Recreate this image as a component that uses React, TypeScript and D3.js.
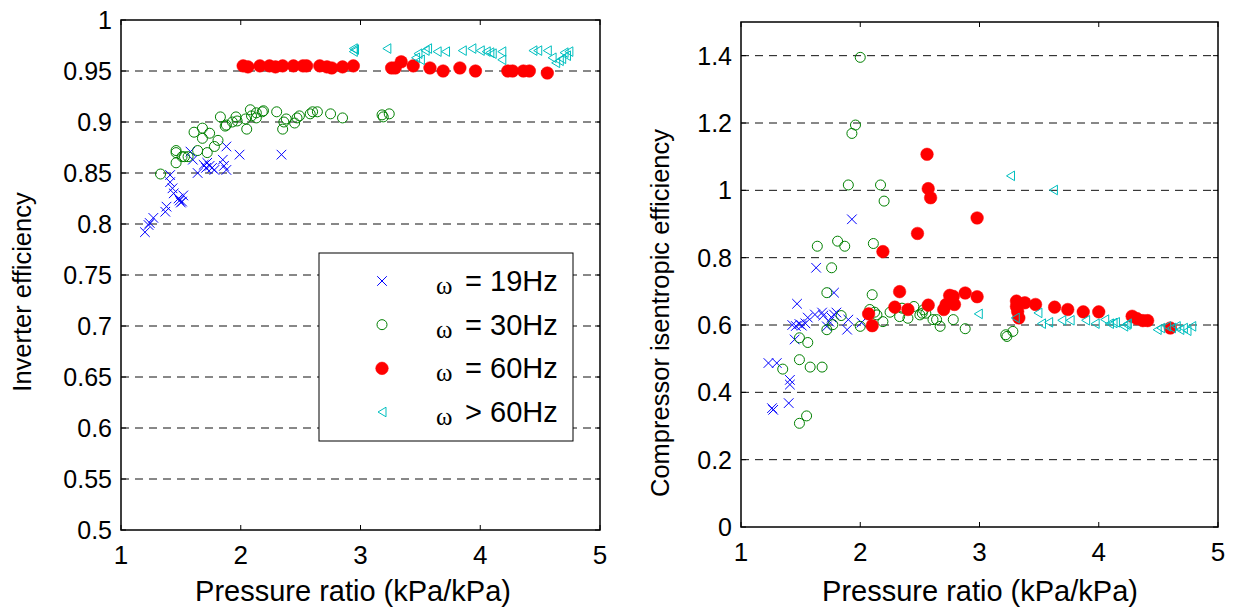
import React from "react";
import * as d3 from "d3";

// ---------- data: left panel (inverter efficiency) ----------
const invBlue: [number, number][] = [
  [1.2, 0.792], [1.23, 0.799], [1.24, 0.801], [1.27, 0.806], [1.37, 0.812], [1.38, 0.817],
  [1.41, 0.848], [1.41, 0.841], [1.43, 0.835], [1.44, 0.83], [1.48, 0.825], [1.49, 0.823],
  [1.51, 0.822], [1.52, 0.828], [1.5, 0.821], [1.58, 0.871], [1.6, 0.863], [1.64, 0.85],
  [1.69, 0.858], [1.71, 0.855], [1.72, 0.86], [1.74, 0.857], [1.76, 0.855], [1.78, 0.853],
  [1.85, 0.863], [1.86, 0.857], [1.88, 0.853], [1.88, 0.876], [1.99, 0.868], [2.34, 0.868],
];
const invGreen: [number, number][] = [
  [1.33, 0.849], [1.46, 0.872], [1.46, 0.87], [1.46, 0.86], [1.51, 0.866], [1.53, 0.866],
  [1.56, 0.866], [1.61, 0.89], [1.64, 0.872], [1.68, 0.894], [1.68, 0.884], [1.72, 0.87],
  [1.74, 0.889], [1.78, 0.876], [1.81, 0.882], [1.83, 0.905], [1.87, 0.896], [1.88, 0.897],
  [1.93, 0.9], [1.96, 0.905], [1.97, 0.901], [2.04, 0.903], [2.05, 0.893], [2.08, 0.912],
  [2.09, 0.906], [2.13, 0.904], [2.13, 0.909], [2.18, 0.91], [2.19, 0.911], [2.3, 0.91],
  [2.35, 0.893], [2.36, 0.9], [2.38, 0.903], [2.45, 0.899], [2.47, 0.904], [2.49, 0.906],
  [2.58, 0.908], [2.6, 0.91], [2.64, 0.91], [2.75, 0.908], [2.85, 0.904], [3.18, 0.907],
  [3.19, 0.905], [3.24, 0.908],
];
const invRed: [number, number][] = [
  [2.02, 0.955], [2.06, 0.954], [2.16, 0.955], [2.24, 0.955], [2.29, 0.954], [2.35, 0.955],
  [2.44, 0.955], [2.52, 0.955], [2.55, 0.955], [2.66, 0.955], [2.72, 0.954], [2.76, 0.953],
  [2.85, 0.954], [2.94, 0.955], [3.26, 0.953], [3.29, 0.953], [3.34, 0.959], [3.44, 0.955],
  [3.58, 0.953], [3.69, 0.95], [3.83, 0.953], [3.96, 0.95], [4.23, 0.95], [4.27, 0.95],
  [4.36, 0.95], [4.41, 0.95], [4.56, 0.948],
];
const invCyan: [number, number][] = [
  [2.95, 0.971], [2.94, 0.972], [2.94, 0.969], [3.22, 0.972], [3.46, 0.963], [3.48, 0.967],
  [3.5, 0.961], [3.54, 0.97], [3.56, 0.972], [3.64, 0.969], [3.71, 0.969], [3.85, 0.97],
  [3.93, 0.972], [4.0, 0.97], [4.05, 0.969], [4.08, 0.968], [4.1, 0.967], [4.18, 0.969],
  [4.18, 0.961], [4.44, 0.97], [4.48, 0.97], [4.56, 0.97], [4.6, 0.963], [4.63, 0.958],
  [4.66, 0.96], [4.68, 0.962], [4.72, 0.965], [4.7, 0.968], [4.74, 0.969],
];

// ---------- data: right panel (compressor isentropic efficiency) ----------
const compBlue: [number, number][] = [
  [1.93, 0.914], [1.63, 0.77], [1.78, 0.696], [1.47, 0.663], [1.43, 0.6], [1.46, 0.597],
  [1.49, 0.603], [1.51, 0.598], [1.54, 0.605], [1.56, 0.622], [1.62, 0.631], [1.68, 0.637],
  [1.69, 0.628], [1.72, 0.596], [1.74, 0.61], [1.76, 0.622], [1.78, 0.631], [1.8, 0.637],
  [1.9, 0.616], [1.89, 0.586], [1.45, 0.557], [1.23, 0.487], [1.3, 0.487], [1.41, 0.437],
  [1.41, 0.423], [1.4, 0.368], [1.26, 0.353], [1.27, 0.348], [2.01, 0.607],
];
const compGreen: [number, number][] = [
  [2.0, 1.395], [1.96, 1.194], [1.93, 1.169], [1.9, 1.016], [2.17, 1.016], [2.2, 0.968],
  [1.64, 0.834], [1.81, 0.849], [1.87, 0.834], [2.11, 0.842], [1.76, 0.77], [1.72, 0.696],
  [1.49, 0.562], [1.56, 0.548], [1.35, 0.469], [1.49, 0.497], [1.58, 0.475], [1.68, 0.475],
  [1.49, 0.308], [1.55, 0.33], [1.72, 0.586], [1.77, 0.601], [1.84, 0.628], [2.0, 0.596],
  [2.1, 0.69], [2.08, 0.646], [2.12, 0.638], [2.14, 0.63], [2.19, 0.61], [2.25, 0.638],
  [2.33, 0.625], [2.35, 0.65], [2.4, 0.62], [2.45, 0.655], [2.5, 0.63], [2.52, 0.635],
  [2.53, 0.645], [2.55, 0.635], [2.61, 0.616], [2.64, 0.616], [2.67, 0.596], [2.78, 0.616],
  [2.88, 0.589], [3.22, 0.571], [3.23, 0.566], [3.28, 0.581],
];
const compRed: [number, number][] = [
  [2.07, 0.633], [2.1, 0.598], [2.19, 0.818], [2.29, 0.653], [2.33, 0.699], [2.4, 0.646],
  [2.48, 0.872], [2.56, 1.107], [2.57, 1.005], [2.59, 0.978], [2.57, 0.659], [2.7, 0.646],
  [2.72, 0.661], [2.75, 0.688], [2.78, 0.685], [2.79, 0.661], [2.88, 0.695], [2.98, 0.684],
  [2.98, 0.918], [3.31, 0.671], [3.31, 0.655], [3.32, 0.64], [3.33, 0.621], [3.38, 0.666],
  [3.47, 0.661], [3.63, 0.653], [3.74, 0.646], [3.87, 0.639], [4.0, 0.639], [4.28, 0.626],
  [4.32, 0.619], [4.37, 0.613], [4.41, 0.613], [4.6, 0.591],
];
const compCyan: [number, number][] = [
  [2.99, 0.633], [3.26, 1.043], [3.62, 1.001], [3.3, 0.621], [3.49, 0.636], [3.52, 0.604],
  [3.58, 0.608], [3.69, 0.614], [3.76, 0.614], [3.89, 0.614], [3.97, 0.604], [4.05, 0.616],
  [4.09, 0.604], [4.12, 0.606], [4.14, 0.608], [4.21, 0.596], [4.23, 0.601], [4.24, 0.604],
  [4.49, 0.586], [4.52, 0.591], [4.57, 0.596], [4.61, 0.591], [4.65, 0.596], [4.68, 0.586],
  [4.71, 0.591], [4.74, 0.583], [4.78, 0.596],
];

const xTicks = [1, 2, 3, 4, 5];
const invTicks = [0.5, 0.55, 0.6, 0.65, 0.7, 0.75, 0.8, 0.85, 0.9, 0.95, 1];
const invTickLabels = ["0.5", "0.55", "0.6", "0.65", "0.7", "0.75", "0.8", "0.85", "0.9", "0.95", "1"];
const compTicks = [0, 0.2, 0.4, 0.6, 0.8, 1, 1.2, 1.4];
const compTickLabels = ["0", "0.2", "0.4", "0.6", "0.8", "1", "1.2", "1.4"];
const legendLabels = [
  { sym: "=", hz: "19Hz" },
  { sym: "=", hz: "30Hz" },
  { sym: "=", hz: "60Hz" },
  { sym: ">", hz: "60Hz" },
];

const BLUE = "#0000ff";
const GREEN = "#008000";
const RED = "#ff0000";
const CYAN = "#00bfbf";
const FONT = "'Liberation Sans', Arial, Helvetica, sans-serif";

type Kind = "x" | "o" | "dot" | "tri";

function Marker({ kind, cx, cy }: { kind: Kind; cx: number; cy: number }) {
  if (kind === "x") {
    const s = 4.8;
    return (
      <path
        d={`M${cx - s},${cy - s}L${cx + s},${cy + s}M${cx - s},${cy + s}L${cx + s},${cy - s}`}
        stroke={BLUE}
        strokeWidth={1}
        fill="none"
      />
    );
  }
  if (kind === "o") return <circle cx={cx} cy={cy} r={5} fill="none" stroke={GREEN} strokeWidth={1} />;
  if (kind === "dot") return <circle cx={cx} cy={cy} r={6.3} fill={RED} stroke={RED} strokeWidth={0.5} />;
  return (
    <path
      d={`M${cx - 4},${cy}L${cx + 4},${cy - 4.8}L${cx + 4},${cy + 4.8}Z`}
      fill="none"
      stroke={CYAN}
      strokeWidth={1}
    />
  );
}

interface PanelProps {
  x0: number;
  x1: number;
  yTop: number;
  yBot: number;
  yDomain: [number, number];
  yTicks: number[];
  yLabels: string[];
  yTitle: string;
  yTitleX: number;
  yTitleY: number;
  xTitleX: number;
  series: { kind: Kind; data: [number, number][] }[];
  children?: React.ReactNode;
}

function Panel(p: PanelProps) {
  const xs = d3.scaleLinear().domain([1, 5]).range([p.x0, p.x1]);
  const ys = d3.scaleLinear().domain(p.yDomain).range([p.yBot, p.yTop]);
  const tl = 5;
  const gridTicks = p.yTicks.filter((t) => ys(t) > p.yTop + 2 && ys(t) < p.yBot - 2);
  return (
    <g>
      {gridTicks.map((t) => (
        <line
          key={"g" + t}
          x1={p.x0}
          x2={p.x1}
          y1={ys(t)}
          y2={ys(t)}
          stroke="#111"
          strokeWidth={1}
          strokeDasharray="8,6"
        />
      ))}
      {p.series.map((s, si) =>
        s.data.map((d, i) => <Marker key={si + "-" + i} kind={s.kind} cx={xs(d[0])} cy={ys(d[1])} />)
      )}
      {p.children}
      {xTicks.map((t) => (
        <g key={"xt" + t}>
          <line x1={xs(t)} x2={xs(t)} y1={p.yBot} y2={p.yBot - tl} stroke="#000" />
          <line x1={xs(t)} x2={xs(t)} y1={p.yTop} y2={p.yTop + tl} stroke="#000" />
          <text
            x={xs(t)}
            y={p.yBot + 34}
            textAnchor="middle"
            fontSize={26}
            fontFamily={FONT}
            fill="#000"
          >
            {t}
          </text>
        </g>
      ))}
      {p.yTicks.map((t, i) => (
        <g key={"yt" + t}>
          <line x1={p.x0} x2={p.x0 + tl} y1={ys(t)} y2={ys(t)} stroke="#000" />
          <line x1={p.x1} x2={p.x1 - tl} y1={ys(t)} y2={ys(t)} stroke="#000" />
          <text
            x={p.x0 - 9}
            y={ys(t) + 9}
            textAnchor="end"
            fontSize={25}
            fontFamily={FONT}
            fill="#000"
          >
            {p.yLabels[i]}
          </text>
        </g>
      ))}
      <rect
        x={p.x0}
        y={p.yTop}
        width={p.x1 - p.x0}
        height={p.yBot - p.yTop}
        fill="none"
        stroke="#000"
        strokeWidth={1.5}
      />
      <text
        x={p.xTitleX}
        y={601}
        textAnchor="middle"
        fontSize={29}
        fontFamily={FONT}
        fill="#000"
      >
        Pressure ratio (kPa/kPa)
      </text>
      <text
        transform={`translate(${p.yTitleX},${p.yTitleY}) rotate(-90)`}
        textAnchor="middle"
        fontSize={25.5}
        fontFamily={FONT}
        fill="#000"
      >
        {p.yTitle}
      </text>
    </g>
  );
}

function Legend() {
  const bx = 319, by = 253, bw = 254, bh = 188;
  const rowY = d3.scaleLinear().domain([0, 3]).range([281, 412]);
  const kinds: Kind[] = ["x", "o", "dot", "tri"];
  return (
    <g>
      <rect x={bx} y={by} width={bw} height={bh} fill="#fff" stroke="#000" strokeWidth={1} />
      {legendLabels.map((l, i) => (
        <g key={i}>
          <Marker kind={kinds[i]} cx={382} cy={rowY(i)} />
          <text fontSize={29} fontFamily={FONT} fill="#000">
            <tspan
              x={436}
              y={rowY(i) + 13}
              fontFamily="'Liberation Serif', 'DejaVu Serif', serif"
              fontSize={25}
            >
              ω
            </tspan>
            <tspan x={465} y={rowY(i) + 10}>
              {l.sym}
            </tspan>
            <tspan x={490} y={rowY(i) + 10}>
              {l.hz}
            </tspan>
          </text>
        </g>
      ))}
    </g>
  );
}

export default function App() {
  return (
    <svg
      width={1237}
      height={611}
      style={{ position: "absolute", left: 0, top: 0, background: "#fff" }}
    >
      <rect x={0} y={0} width={1237} height={611} fill="#fff" />
      <Panel
        x0={121}
        x1={600}
        yTop={20}
        yBot={530}
        yDomain={[0.5, 1]}
        yTicks={invTicks}
        yLabels={invTickLabels}
        yTitle="Inverter efficiency"
        yTitleX={31}
        yTitleY={292}
        xTitleX={353}
        series={[
          { kind: "x", data: invBlue },
          { kind: "o", data: invGreen },
          { kind: "dot", data: invRed },
          { kind: "tri", data: invCyan },
        ]}
      >
        <Legend />
      </Panel>
      <Panel
        x0={741}
        x1={1218}
        yTop={22}
        yBot={527}
        yDomain={[0, 1.5]}
        yTicks={compTicks}
        yLabels={compTickLabels}
        yTitle="Compressor isentropic efficiency"
        yTitleX={669}
        yTitleY={313}
        xTitleX={980}
        series={[
          { kind: "x", data: compBlue },
          { kind: "o", data: compGreen },
          { kind: "dot", data: compRed },
          { kind: "tri", data: compCyan },
        ]}
      />
    </svg>
  );
}
